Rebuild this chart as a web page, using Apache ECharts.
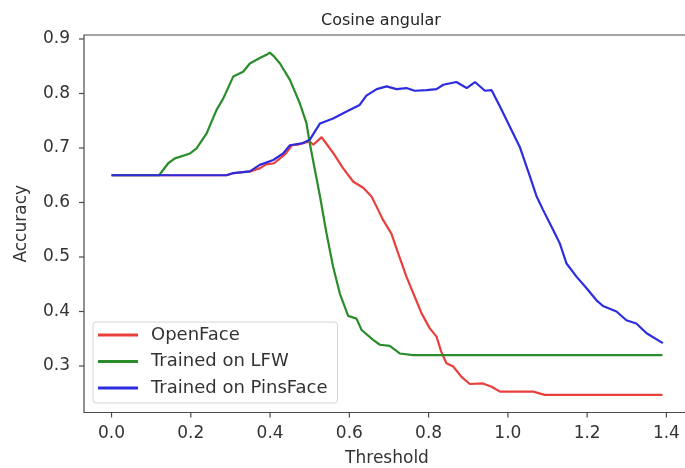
<!DOCTYPE html>
<html>
<head>
<meta charset="utf-8">
<script src="https://cdn.jsdelivr.net/npm/echarts@6/dist/echarts.min.js"></script>
<style>
  html, body { margin: 0; padding: 0; background: #ffffff; }
  #chart { width: 685px; height: 468px; }
</style>
</head>
<body>
<div id="chart"></div>
<script>
// Accuracy vs. distance threshold for three embedding models
const openfaceX = [0, 0.29, 0.31, 0.35, 0.375, 0.39, 0.41, 0.425, 0.44, 0.455, 0.47, 0.483, 0.5, 0.509, 0.53, 0.545, 0.56, 0.584, 0.61, 0.635, 0.656, 0.673, 0.685, 0.706, 0.723, 0.744, 0.765, 0.782, 0.803, 0.82, 0.832, 0.845, 0.862, 0.883, 0.904, 0.937, 0.959, 0.98, 1.064, 1.093, 1.39];
const openfaceY = [0.650, 0.650, 0.654, 0.657, 0.663, 0.670, 0.672, 0.681, 0.690, 0.705, 0.706, 0.709, 0.712, 0.706, 0.720, 0.705, 0.690, 0.663, 0.638, 0.627, 0.611, 0.586, 0.568, 0.543, 0.507, 0.464, 0.427, 0.397, 0.369, 0.354, 0.326, 0.305, 0.299, 0.280, 0.267, 0.268, 0.262, 0.253, 0.253, 0.247, 0.247];

const lfwX = [0, 0.12, 0.143, 0.16, 0.198, 0.214, 0.24, 0.265, 0.282, 0.307, 0.332, 0.349, 0.374, 0.391, 0.399, 0.41, 0.425, 0.45, 0.475, 0.492, 0.5, 0.513, 0.526, 0.542, 0.559, 0.576, 0.597, 0.618, 0.631, 0.66, 0.677, 0.702, 0.727, 0.761, 1.39];
const lfwY = [0.650, 0.650, 0.672, 0.681, 0.690, 0.699, 0.727, 0.770, 0.791, 0.831, 0.840, 0.855, 0.865, 0.871, 0.875, 0.868, 0.855, 0.825, 0.782, 0.745, 0.709, 0.660, 0.611, 0.545, 0.482, 0.433, 0.392, 0.387, 0.366, 0.348, 0.339, 0.337, 0.323, 0.320, 0.320];

const pinsX = [0, 0.29, 0.307, 0.349, 0.374, 0.408, 0.433, 0.45, 0.483, 0.5, 0.526, 0.559, 0.593, 0.626, 0.643, 0.669, 0.694, 0.719, 0.744, 0.765, 0.795, 0.82, 0.837, 0.87, 0.896, 0.917, 0.942, 0.959, 0.98, 1.005, 1.03, 1.056, 1.072, 1.089, 1.114, 1.131, 1.148, 1.173, 1.198, 1.223, 1.24, 1.274, 1.299, 1.324, 1.35, 1.391];
const pinsY = [0.650, 0.650, 0.654, 0.657, 0.669, 0.678, 0.690, 0.705, 0.709, 0.715, 0.745, 0.754, 0.767, 0.779, 0.796, 0.808, 0.813, 0.808, 0.810, 0.805, 0.806, 0.808, 0.816, 0.821, 0.810, 0.821, 0.805, 0.806, 0.776, 0.739, 0.702, 0.647, 0.612, 0.586, 0.550, 0.525, 0.488, 0.464, 0.443, 0.421, 0.410, 0.400, 0.384, 0.378, 0.360, 0.342];

const seriesNames = ['OpenFace', 'Trained on LFW', 'Trained on PinsFace'];
// tick values on each axis
const xTickValues = [0.0, 0.2, 0.4, 0.6, 0.8, 1.0, 1.2, 1.4];
const yTickValues = [0.3, 0.4, 0.5, 0.6, 0.7, 0.8, 0.9];

function pairs(xs, ys) {
  return xs.map((x, i) => [x, ys[i]]);
}

// Plot frame (pixels) and the data extent it spans (5% padding around the data)
const plot = { left: 84, top: 35, width: 606, height: 377.5 };
const xMin = -0.0695, xMax = 1.4595;
const yMin = 0.2147, yMax = 0.9073;
const tickLen = 5;

const xTickMin = xTickValues[0], xTickMax = xTickValues[xTickValues.length - 1];
const yTickMin = yTickValues[0], yTickMax = yTickValues[yTickValues.length - 1];
const xTickStep = xTickValues[1] - xTickValues[0];
const yTickStep = yTickValues[1] - yTickValues[0];

const pxPerX = plot.width / (xMax - xMin);
const pxPerY = plot.height / (yMax - yMin);

// Label strips just outside the frame whose axis ranges start on round values,
// so the tick labels read 0.0, 0.2, ... and 0.3, 0.4, ...
const xLabelStrip = {
  left: plot.left + (xTickMin - xMin) * pxPerX,
  width: (xTickMax - xTickMin) * pxPerX,
  top: plot.top + plot.height,
  height: tickLen
};
const yLabelStrip = {
  left: plot.left - tickLen,
  width: tickLen,
  top: plot.top + (yMax - yTickMax) * pxPerY,
  height: (yTickMax - yTickMin) * pxPerY
};

const textColor = '#333333';
const spineColor = '#4a4a4a';
const fontFamily = '"DejaVu Sans", sans-serif';

const labelStyle = { fontFamily, fontSize: 17, color: textColor, formatter: v => v.toFixed(1) };
const gridBase = { containLabel: false, outerBoundsMode: 'none' };
const hiddenAxis = { type: 'value', show: false, min: 0, max: 1 };

const chart = echarts.init(document.getElementById('chart'), null, { renderer: 'canvas' });

chart.setOption({
  animation: false,
  backgroundColor: '#ffffff',
  title: {
    text: 'Cosine angular',
    left: 376,
    top: 8,
    textAlign: 'center',
    textStyle: { fontFamily, fontSize: 16, fontWeight: 'normal', color: '#262626' }
  },
  grid: [
    Object.assign({
      show: true,
      borderColor: spineColor,
      borderWidth: 1.2,
      backgroundColor: 'transparent'
    }, gridBase, plot),
    Object.assign({ show: false }, gridBase, xLabelStrip),
    Object.assign({ show: false }, gridBase, yLabelStrip)
  ],
  legend: {
    orient: 'vertical',
    left: 93,
    top: 322,
    data: seriesNames,
    icon: 'rect',
    itemWidth: 40,
    itemHeight: 3,
    itemGap: 8.5,
    padding: [4, 10, 6, 5],
    backgroundColor: 'rgba(255,255,255,0.85)',
    borderColor: '#d6d6d6',
    borderWidth: 1,
    borderRadius: 3,
    textStyle: { fontFamily, fontSize: 18, color: textColor, padding: [0, 0, 0, 8] }
  },
  xAxis: [
    {
      gridIndex: 0,
      type: 'value',
      min: xMin,
      max: xMax,
      name: 'Threshold',
      nameLocation: 'middle',
      nameGap: 38,
      nameTextStyle: { fontFamily, fontSize: 17, color: textColor },
      axisLine: { show: false, onZero: false },
      axisTick: { show: false },
      axisLabel: { show: false },
      splitLine: { show: false }
    },
    {
      gridIndex: 1,
      type: 'value',
      min: xTickMin,
      max: xTickMax,
      interval: xTickStep,
      axisLine: { show: false, onZero: false },
      axisTick: { show: false },
      axisLabel: Object.assign({ margin: 13 - tickLen }, labelStyle),
      splitLine: { show: false }
    },
    Object.assign({ gridIndex: 2 }, hiddenAxis)
  ],
  yAxis: [
    {
      gridIndex: 0,
      type: 'value',
      min: yMin,
      max: yMax,
      name: 'Accuracy',
      nameLocation: 'middle',
      nameGap: 54,
      nameTextStyle: { fontFamily, fontSize: 17, color: textColor },
      axisLine: { show: false, onZero: false },
      axisTick: { show: false },
      axisLabel: { show: false },
      splitLine: { show: false }
    },
    Object.assign({ gridIndex: 1 }, hiddenAxis),
    {
      gridIndex: 2,
      type: 'value',
      min: yTickMin,
      max: yTickMax,
      interval: yTickStep,
      axisLine: { show: false, onZero: false },
      axisTick: { show: false },
      axisLabel: Object.assign({ margin: 14 - tickLen }, labelStyle),
      splitLine: { show: false }
    }
  ],
  series: [
    {
      name: seriesNames[0],
      type: 'line',
      xAxisIndex: 0,
      yAxisIndex: 0,
      data: pairs(openfaceX, openfaceY),
      showSymbol: false,
      color: '#e8403c',
      lineStyle: { width: 2.2 }
    },
    {
      name: seriesNames[1],
      type: 'line',
      xAxisIndex: 0,
      yAxisIndex: 0,
      data: pairs(lfwX, lfwY),
      showSymbol: false,
      color: '#2a8c2a',
      lineStyle: { width: 2.2 }
    },
    {
      name: seriesNames[2],
      type: 'line',
      xAxisIndex: 0,
      yAxisIndex: 0,
      data: pairs(pinsX, pinsY),
      showSymbol: false,
      color: '#2d2ddf',
      lineStyle: { width: 2.2 }
    }
  ]
});

// Outward tick marks on the frame, positioned through the main axes' scales
const finder = { xAxisIndex: 0, yAxisIndex: 0 };
const tickShapes = [];
xTickValues.forEach(v => {
  const p = chart.convertToPixel(finder, [v, yMin]);
  tickShapes.push({
    type: 'line',
    silent: true,
    z: 100,
    shape: { x1: p[0], y1: p[1], x2: p[0], y2: p[1] + tickLen },
    style: { stroke: spineColor, lineWidth: 1.2 }
  });
});
yTickValues.forEach(v => {
  const p = chart.convertToPixel(finder, [xMin, v]);
  tickShapes.push({
    type: 'line',
    silent: true,
    z: 100,
    shape: { x1: p[0] - tickLen, y1: p[1], x2: p[0], y2: p[1] },
    style: { stroke: spineColor, lineWidth: 1.2 }
  });
});
chart.setOption({ graphic: { elements: tickShapes } });
</script>
</body>
</html>
